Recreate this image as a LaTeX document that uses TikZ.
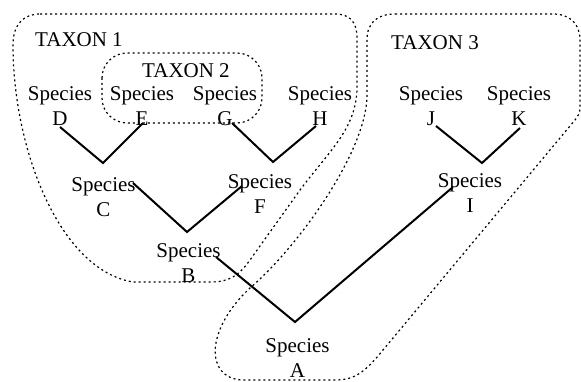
\documentclass[tikz,border=0pt]{standalone}
\usepackage{fontspec}
\setmainfont{Liberation Serif}
\begin{document}
\begin{tikzpicture}[x=1pt,y=-1pt,
  sp/.style={align=center, inner sep=0pt, anchor=base,
    font=\fontsize{21}{25}\selectfont},
  taxlabel/.style={inner sep=0pt, anchor=base, font=\fontsize{21}{25}\selectfont},
  branch/.style={line width=2pt},
  group/.style={line width=1.2pt, dash pattern=on 2pt off 3pt}]
\useasboundingbox (0,0) rectangle (581,382);

% taxon outlines
\draw[group] (40,14) -- (335,14) .. controls (350,14) and (357,22) .. (357,38)
  -- (357,90) .. controls (355,130) and (330,150) .. (300,190)
  -- (250,260) .. controls (238,277) and (228,282) .. (210,282)
  -- (133,282) .. controls (60,270) and (13,150) .. (13,45)
  .. controls (13,24) and (24,14) .. (40,14) -- cycle;
\draw[group, rounded corners=25pt] (102,53) rectangle (262,123);
\draw[group] (395,14) -- (553,14) .. controls (570,14) and (580,24) .. (580,40)
  -- (580,108) .. controls (580,113) and (578,116) .. (575,120)
  -- (383,350) .. controls (365,372) and (355,380) .. (335,380)
  -- (242,380) .. controls (205,378) and (205,330) .. (250,288)
  .. controls (300,245) and (367,150) .. (367,95)
  -- (367,40) .. controls (367,22) and (378,14) .. (395,14) -- cycle;

% taxon names
\node[taxlabel] (t1) at (79,47) {TAXON 1};
\node[taxlabel] (t2) at (186,78) {TAXON 2};
\node[taxlabel] (t3) at (435,50) {TAXON 3};

% species (placed by the baseline of the letter line)
\node[sp] (D) at (60,125.5) {Species\\D};
\node[sp] (E) at (142,125.5) {Species\\E};
\node[sp] (G) at (225,125.5) {Species\\G};
\node[sp] (H) at (320,125.5) {Species\\H};
\node[sp] (J) at (431,125.5) {Species\\J};
\node[sp] (K) at (519,125.5) {Species\\K};
\node[sp] (C) at (103.5,216.5) {Species\\C};
\node[sp] (F) at (260,213.5) {Species\\F};
\node[sp] (I) at (470,212.5) {Species\\I};
\node[sp] (B) at (188.5,282.5) {Species\\B};
\node[sp] (A) at (297.5,377.5) {Species\\A};

% branch end points
\coordinate (D-end) at (60,127);
\coordinate (E-end) at (143,123);
\coordinate (G-end) at (232,123);
\coordinate (H-end) at (316,126);
\coordinate (J-end) at (436,126);
\coordinate (K-end) at (520,128);
\coordinate (C-top) at (103,163);
\coordinate (F-top) at (273,162);
\coordinate (I-top) at (482,163);
\coordinate (C-end) at (133,183);
\coordinate (F-end) at (242,186);
\coordinate (B-top) at (187,232);
\coordinate (B-end) at (216,257);
\coordinate (I-end) at (453,187);
\coordinate (A-top) at (295,322);

% branches
\draw[branch] (D-end) -- (C-top) -- (E-end);
\draw[branch] (G-end) -- (F-top) -- (H-end);
\draw[branch] (J-end) -- (I-top) -- (K-end);
\draw[branch] (C-end) -- (B-top) -- (F-end);
\draw[branch] (B-end) -- (A-top) -- (I-end);
\end{tikzpicture}
\end{document}
